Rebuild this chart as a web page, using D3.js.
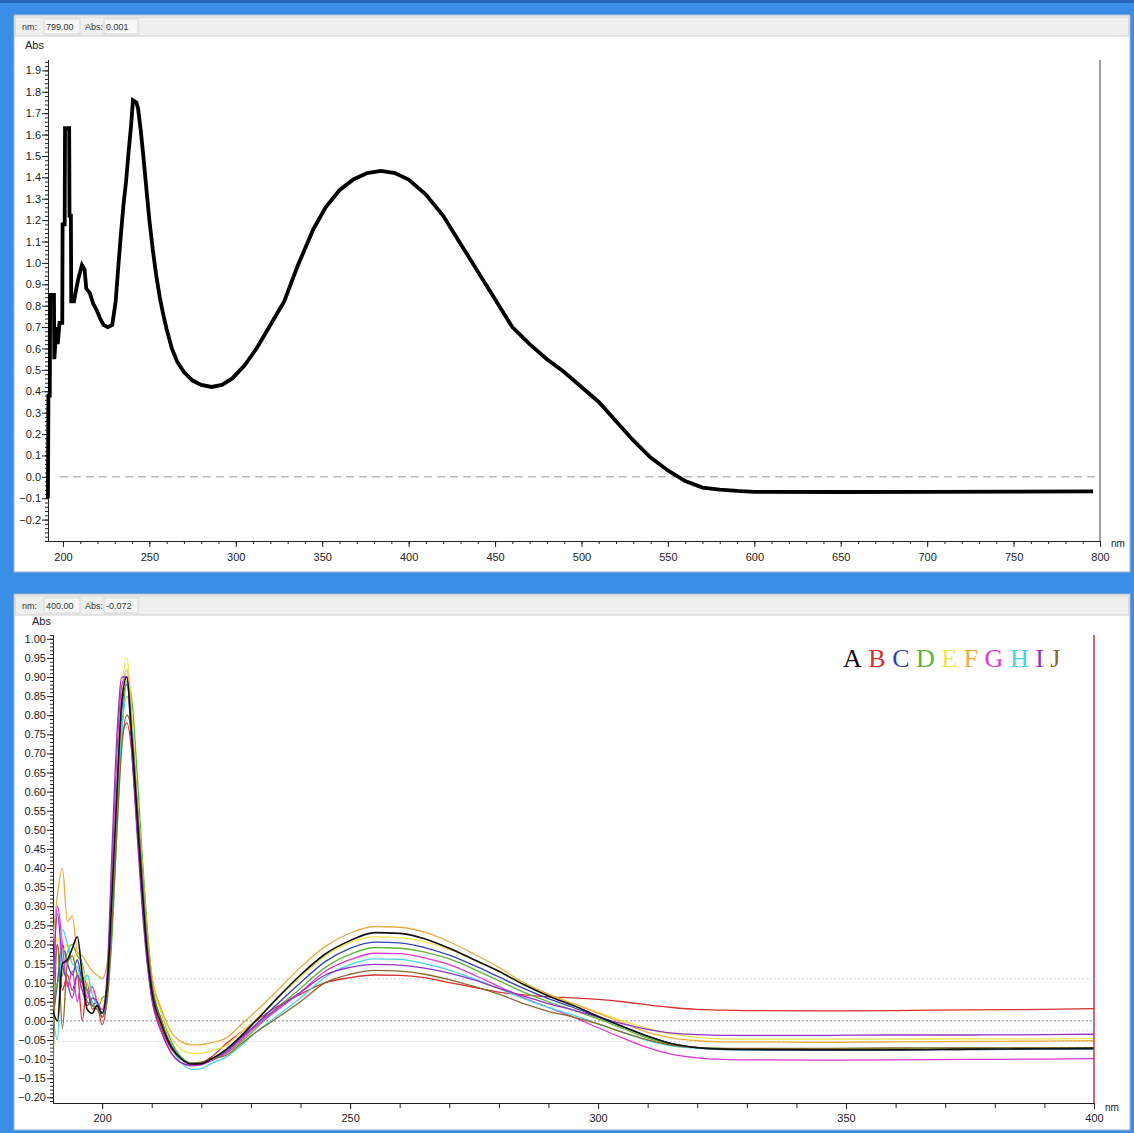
<!DOCTYPE html>
<html>
<head>
<meta charset="utf-8">
<script src="https://cdn.jsdelivr.net/npm/d3@7"></script>
<style>
  body { margin: 0; background: #3b8ee6; }
  svg { display: block; font-family: "Liberation Sans", Arial, sans-serif; }
</style>
</head>
<body>
<div id="wrapper"></div>
<script>
// ---- data: top spectrum (190-800 nm)
const topNm = [191.3, 191.6, 192.4, 192.6, 194.8, 195.0, 196.2, 197.0, 198.0, 199.6, 199.8, 201.0, 201.2, 203.6, 203.8, 204.6, 204.8, 206.4, 207.5, 209, 211, 212.5, 213.5, 215.5, 217.5, 219.5, 221.5, 223.5, 226, 228.5, 230.5, 232, 233.5, 235, 236.5, 238, 239.5, 240.5, 242.5, 243.5, 245, 246.5, 248, 250, 252, 254, 256, 258, 260, 263, 266, 270, 275, 280, 286, 292, 298, 305, 312, 320, 328, 336, 345, 352, 360, 368, 376, 384, 392, 400, 410, 420, 430, 440, 450, 460, 470, 480, 490, 500, 510, 520, 530, 540, 550, 560, 570, 580, 590, 600, 650, 700, 750, 796];
const topAbs = [-0.10, 0.38, 0.38, 0.85, 0.85, 0.55, 0.70, 0.62, 0.72, 0.72, 1.18, 1.18, 1.63, 1.63, 1.22, 1.22, 0.82, 0.82, 0.87, 0.93, 0.99, 0.97, 0.88, 0.86, 0.81, 0.78, 0.74, 0.71, 0.70, 0.71, 0.82, 0.98, 1.13, 1.27, 1.38, 1.52, 1.65, 1.76, 1.75, 1.72, 1.62, 1.50, 1.37, 1.20, 1.06, 0.94, 0.84, 0.76, 0.69, 0.60, 0.54, 0.49, 0.45, 0.43, 0.42, 0.43, 0.46, 0.52, 0.60, 0.71, 0.82, 0.99, 1.16, 1.26, 1.34, 1.39, 1.42, 1.43, 1.42, 1.39, 1.32, 1.22, 1.09, 0.96, 0.83, 0.70, 0.62, 0.55, 0.49, 0.42, 0.35, 0.26, 0.17, 0.09, 0.03, -0.02, -0.05, -0.06, -0.066, -0.07, -0.071, -0.07, -0.069, -0.068];
const topYTicks = [-0.2, -0.1, 0.0, 0.1, 0.2, 0.3, 0.4, 0.5, 0.6, 0.7, 0.8, 0.9, 1.0, 1.1, 1.2, 1.3, 1.4, 1.5, 1.6, 1.7, 1.8, 1.9];
const topXTicks = [200, 250, 300, 350, 400, 450, 500, 550, 600, 650, 700, 750, 800];

// ---- data: bottom spectra (190-400 nm), series A..J
const botNm = [190, 191, 192, 193, 194, 195, 196, 197, 198, 199, 200, 201, 202, 203, 204, 205, 206, 207, 208, 209, 210, 212, 214, 216, 218, 220, 222, 225, 228, 231, 235, 240, 245, 250, 255, 260, 265, 270, 275, 280, 285, 290, 295, 300, 305, 310, 315, 320, 325, 330, 345, 360, 375, 390, 400];
const absA = [0.03, 0.0, 0.15, 0.16, 0.19, 0.22, 0.12, 0.03, 0.02, 0.04, 0.02, 0.09, 0.33, 0.6, 0.84, 0.9, 0.74, 0.55, 0.36, 0.19, 0.08, -0.01, -0.07, -0.1, -0.113, -0.112, -0.1, -0.075, -0.04, 0.0, 0.055, 0.12, 0.175, 0.21, 0.231, 0.229, 0.215, 0.19, 0.16, 0.13, 0.095, 0.065, 0.04, 0.012, -0.015, -0.04, -0.06, -0.07, -0.074, -0.075, -0.076, -0.076, -0.074, -0.073, -0.072];
const absB = [0.05, 0.20, 0.08, 0.12, 0.08, 0.12, 0.0, 0.1, 0.03, 0.04, -0.01, 0.06, 0.28, 0.55, 0.74, 0.78, 0.7, 0.52, 0.34, 0.18, 0.07, -0.02, -0.075, -0.1, -0.11, -0.108, -0.095, -0.06, -0.03, 0.0, 0.035, 0.07, 0.1, 0.113, 0.12, 0.119, 0.113, 0.1, 0.088, 0.075, 0.068, 0.063, 0.06, 0.056, 0.05, 0.042, 0.035, 0.03, 0.028, 0.027, 0.026, 0.027, 0.029, 0.03, 0.032];
const absC = [0.0, 0.1, 0.2, 0.15, 0.12, 0.16, 0.1, 0.08, 0.04, 0.05, 0.01, 0.07, 0.3, 0.58, 0.82, 0.88, 0.76, 0.57, 0.38, 0.2, 0.09, 0.0, -0.065, -0.098, -0.112, -0.112, -0.1, -0.08, -0.045, -0.01, 0.04, 0.1, 0.155, 0.19, 0.206, 0.204, 0.192, 0.172, 0.145, 0.115, 0.085, 0.058, 0.035, 0.01, -0.015, -0.04, -0.06, -0.07, -0.074, -0.076, -0.076, -0.075, -0.075, -0.074, -0.074];
const absD = [0.02, 0.1, 0.12, 0.18, 0.2, 0.17, 0.15, 0.08, 0.05, 0.03, 0.06, 0.07, 0.22, 0.5, 0.76, 0.89, 0.84, 0.66, 0.45, 0.26, 0.12, 0.02, -0.055, -0.095, -0.11, -0.11, -0.1, -0.085, -0.055, -0.02, 0.03, 0.085, 0.14, 0.174, 0.192, 0.19, 0.18, 0.162, 0.135, 0.105, 0.075, 0.05, 0.028, 0.005, -0.02, -0.045, -0.062, -0.07, -0.072, -0.073, -0.073, -0.072, -0.071, -0.07, -0.07];
const absE = [0.1, 0.22, 0.18, 0.2, 0.16, 0.18, 0.14, 0.1, 0.08, 0.06, 0.05, 0.09, 0.3, 0.6, 0.86, 0.95, 0.8, 0.6, 0.42, 0.24, 0.11, 0.02, -0.045, -0.075, -0.085, -0.085, -0.078, -0.065, -0.03, 0.005, 0.055, 0.115, 0.17, 0.205, 0.22, 0.218, 0.207, 0.187, 0.16, 0.13, 0.095, 0.068, 0.045, 0.022, 0.0, -0.02, -0.035, -0.043, -0.047, -0.048, -0.048, -0.048, -0.047, -0.047, -0.046];
const absF = [0.2, 0.33, 0.4, 0.26, 0.275, 0.18, 0.17, 0.15, 0.13, 0.12, 0.11, 0.15, 0.34, 0.62, 0.85, 0.92, 0.78, 0.59, 0.41, 0.24, 0.12, 0.03, -0.03, -0.055, -0.063, -0.062, -0.057, -0.045, -0.01, 0.025, 0.075, 0.14, 0.195, 0.23, 0.247, 0.245, 0.232, 0.207, 0.175, 0.14, 0.1, 0.07, 0.045, 0.02, -0.005, -0.03, -0.045, -0.052, -0.055, -0.055, -0.056, -0.055, -0.054, -0.053, -0.052];
const absG = [0.02, 0.3, 0.2, 0.09, 0.13, 0.05, 0.12, 0.06, 0.09, 0.05, 0.03, 0.1, 0.4, 0.7, 0.88, 0.9, 0.72, 0.52, 0.33, 0.17, 0.06, -0.03, -0.085, -0.11, -0.118, -0.115, -0.105, -0.085, -0.05, -0.015, 0.025, 0.075, 0.13, 0.16, 0.177, 0.176, 0.165, 0.147, 0.12, 0.09, 0.06, 0.035, 0.01, -0.018, -0.045, -0.07, -0.088, -0.097, -0.101, -0.102, -0.103, -0.102, -0.101, -0.1, -0.099];
const absH = [0.02, -0.05, 0.24, 0.2, 0.15, 0.14, 0.1, 0.12, 0.07, 0.04, 0.02, 0.06, 0.26, 0.52, 0.76, 0.85, 0.76, 0.58, 0.4, 0.22, 0.1, 0.0, -0.07, -0.11, -0.127, -0.125, -0.112, -0.095, -0.065, -0.03, 0.01, 0.06, 0.115, 0.147, 0.162, 0.161, 0.15, 0.133, 0.11, 0.085, 0.058, 0.035, 0.015, -0.008, -0.03, -0.052, -0.066, -0.072, -0.075, -0.076, -0.076, -0.075, -0.074, -0.073, -0.073];
const absI = [0.03, 0.28, 0.15, 0.1, 0.06, 0.12, 0.08, 0.04, 0.06, 0.05, 0.02, 0.12, 0.45, 0.75, 0.9, 0.9, 0.7, 0.5, 0.31, 0.16, 0.06, -0.03, -0.085, -0.11, -0.116, -0.113, -0.1, -0.08, -0.045, -0.01, 0.03, 0.075, 0.12, 0.14, 0.148, 0.146, 0.138, 0.125, 0.107, 0.085, 0.065, 0.045, 0.028, 0.01, -0.008, -0.022, -0.032, -0.036, -0.038, -0.038, -0.038, -0.037, -0.037, -0.036, -0.035];
const absJ = [-0.19, 0.2, -0.02, 0.15, 0.17, 0.12, 0.1, 0.05, 0.04, 0.03, 0.01, 0.05, 0.25, 0.5, 0.72, 0.8, 0.75, 0.58, 0.4, 0.22, 0.1, 0.0, -0.07, -0.1, -0.112, -0.11, -0.1, -0.09, -0.06, -0.03, 0.005, 0.05, 0.1, 0.122, 0.132, 0.13, 0.122, 0.108, 0.09, 0.07, 0.045, 0.025, 0.01, -0.008, -0.03, -0.05, -0.064, -0.07, -0.072, -0.072, -0.072, -0.071, -0.071, -0.07, -0.07];
const seriesNames = ["A", "B", "C", "D", "E", "F", "G", "H", "I", "J"];
const seriesColors = ["#111111", "#d83030", "#3242b8", "#5cb53a", "#efe44a", "#e6ac42", "#dd38cf", "#48d4e2", "#9333c4", "#8a6a2c"];
const seriesValues = [absA, absB, absC, absD, absE, absF, absG, absH, absI, absJ];
const botYTicks = d3.range(-20, 101, 5).map((d) => d / 100);
const botXTicks = [200, 250, 300, 350, 400];

const svg = d3.select("#wrapper").append("svg").attr("width", 1134).attr("height", 1133);
svg.append("rect").attr("width", 1134).attr("height", 1133).attr("fill", "#3b8ee6");
svg.append("rect").attr("width", 1134).attr("height", 3).attr("fill", "#2566b8");

// panels + header strips
function panel(y, h, nmText, absText) {
  svg.append("rect").attr("x", 14).attr("y", y).attr("width", 1116).attr("height", h)
    .attr("fill", "#fff").attr("stroke", "#9fb3c8");
  svg.append("rect").attr("x", 15).attr("y", y + 2).attr("width", 1114).attr("height", 19)
    .attr("fill", "#efefef").attr("stroke", "#cfcfcf");
  const hy = y + 15;
  svg.append("text").attr("x", 22).attr("y", hy).attr("font-size", 9).attr("fill", "#333").text("nm:");
  svg.append("rect").attr("x", 44).attr("y", y + 4).attr("width", 36).attr("height", 15)
    .attr("fill", "#f7f7f7").attr("stroke", "#d6d6d6");
  svg.append("text").attr("x", 46).attr("y", hy).attr("font-size", 9).attr("fill", "#333").text(nmText);
  svg.append("text").attr("x", 85).attr("y", hy).attr("font-size", 9).attr("fill", "#333").text("Abs:");
  svg.append("rect").attr("x", 104).attr("y", y + 4).attr("width", 34).attr("height", 15)
    .attr("fill", "#f7f7f7").attr("stroke", "#d6d6d6");
  svg.append("text").attr("x", 106).attr("y", hy).attr("font-size", 9).attr("fill", "#333").text(absText);
}
panel(15, 557, "799.00", "0.001");
panel(594, 536, "400.00", "-0.072");

function styleAxis(g) {
  g.selectAll("path.domain").attr("stroke", "#222");
  g.selectAll("line").attr("stroke", "#222");
  g.selectAll("text").attr("fill", "#222").attr("font-size", 11)
    .attr("font-family", "Liberation Sans, Arial, sans-serif");
}

// ---- top chart
const xTop = d3.scaleLinear().domain([191.35, 800]).range([48, 1100]);
const yTop = d3.scaleLinear().domain([-0.3, 1.95]).range([541, 59.7]);

svg.append("g").attr("transform", "translate(48,0)")
  .call(d3.axisLeft(yTop).tickValues(d3.range(-15, 98).map((d) => d * 0.02)).tickSize(3).tickFormat("").tickSizeOuter(0))
  .call(styleAxis);
svg.append("g").attr("transform", "translate(48,0)")
  .call(d3.axisLeft(yTop).tickValues(topYTicks).tickSize(6).tickPadding(1).tickFormat(d3.format(".1f")).tickSizeOuter(0))
  .call(styleAxis);
svg.append("g").attr("transform", "translate(0,541)")
  .call(d3.axisBottom(xTop).tickValues(d3.range(200, 801, 10)).tickSize(3).tickFormat("").tickSizeOuter(0))
  .call(styleAxis);
svg.append("g").attr("transform", "translate(0,541)")
  .call(d3.axisBottom(xTop).tickValues(topXTicks).tickSize(6).tickPadding(6).tickFormat(d3.format("d")).tickSizeOuter(0))
  .call(styleAxis);
svg.append("line").attr("x1", 1100).attr("x2", 1100).attr("y1", 60).attr("y2", 541).attr("stroke", "#444");
svg.append("text").attr("x", 25).attr("y", 49).attr("font-size", 11).attr("fill", "#222").text("Abs");
svg.append("text").attr("x", 1111).attr("y", 547).attr("font-size", 10).attr("fill", "#222").text("nm");

svg.append("line").attr("x1", 60).attr("x2", 1100).attr("y1", yTop(0)).attr("y2", yTop(0))
  .attr("stroke", "#9a9a9a").attr("stroke-dasharray", "8,5");

svg.append("path")
  .datum(topNm.map((w, i) => [w, topAbs[i]]))
  .attr("fill", "none").attr("stroke", "#000").attr("stroke-width", 3.8)
  .attr("stroke-linejoin", "miter")
  .attr("d", d3.line().x((d) => xTop(d[0])).y((d) => yTop(d[1])));

// ---- bottom chart
const xBot = d3.scaleLinear().domain([190.1, 400]).range([53, 1094]);
const yBot = d3.scaleLinear().domain([-0.215, 1.01]).range([1103, 635]);

svg.append("g").attr("transform", "translate(53,0)")
  .call(d3.axisLeft(yBot).tickValues(d3.range(-21, 102).map((d) => d / 100)).tickSize(3).tickFormat("").tickSizeOuter(0))
  .call(styleAxis);
svg.append("g").attr("transform", "translate(53,0)")
  .call(d3.axisLeft(yBot).tickValues(botYTicks).tickSize(6).tickPadding(1).tickFormat(d3.format(".2f")).tickSizeOuter(0))
  .call(styleAxis);
svg.append("g").attr("transform", "translate(0,1103)")
  .call(d3.axisBottom(xBot).tickValues(d3.range(200, 401, 10)).tickSize(5).tickFormat("").tickSizeOuter(0))
  .call(styleAxis);
svg.append("g").attr("transform", "translate(0,1103)")
  .call(d3.axisBottom(xBot).tickValues(botXTicks).tickSize(6).tickPadding(5).tickFormat(d3.format("d")).tickSizeOuter(0))
  .call(styleAxis);
svg.append("text").attr("x", 32).attr("y", 625).attr("font-size", 11).attr("fill", "#222").text("Abs");
svg.append("text").attr("x", 1105).attr("y", 1111).attr("font-size", 10).attr("fill", "#222").text("nm");

// dotted reference lines
[[0.11, "#cfcfcf"], [0.0, "#8a8a8a"], [-0.026, "#d8d8d8"], [-0.054, "#d8d8d8"]].forEach(([v, c]) => {
  svg.append("line").attr("x1", 58).attr("x2", 1094).attr("y1", yBot(v)).attr("y2", yBot(v))
    .attr("stroke", c).attr("stroke-dasharray", "2,2");
});

svg.append("clipPath").attr("id", "botClip").append("rect")
  .attr("x", 53).attr("y", 630).attr("width", 1041).attr("height", 474);

const botLine = d3.line().x((d) => xBot(d[0])).y((d) => yBot(d[1])).curve(d3.curveMonotoneX);
const order = [1, 2, 3, 4, 5, 6, 7, 8, 9, 0];
svg.append("g").attr("clip-path", "url(#botClip)")
  .selectAll("path")
  .data(order)
  .join("path")
  .attr("fill", "none")
  .attr("stroke", (i) => seriesColors[i])
  .attr("stroke-width", (i) => (i === 0 ? 1.6 : 1.3))
  .attr("d", (i) => botLine(botNm.map((w, k) => [w, seriesValues[i][k]])));

svg.append("line").attr("x1", 1094).attr("x2", 1094).attr("y1", 635).attr("y2", 1103)
  .attr("stroke", "#c23a3a").attr("stroke-width", 1.5);

// legend letters
const legend = svg.append("text").attr("x", 843).attr("y", 667)
  .attr("font-family", "Liberation Serif, Times New Roman, serif").attr("font-size", 26);
legend.selectAll("tspan")
  .data(seriesNames)
  .join("tspan")
  .attr("fill", (d, i) => seriesColors[i])
  .text((d, i) => (i < seriesNames.length - 1 ? d + "\u00a0" : d));
</script>
</body>
</html>
